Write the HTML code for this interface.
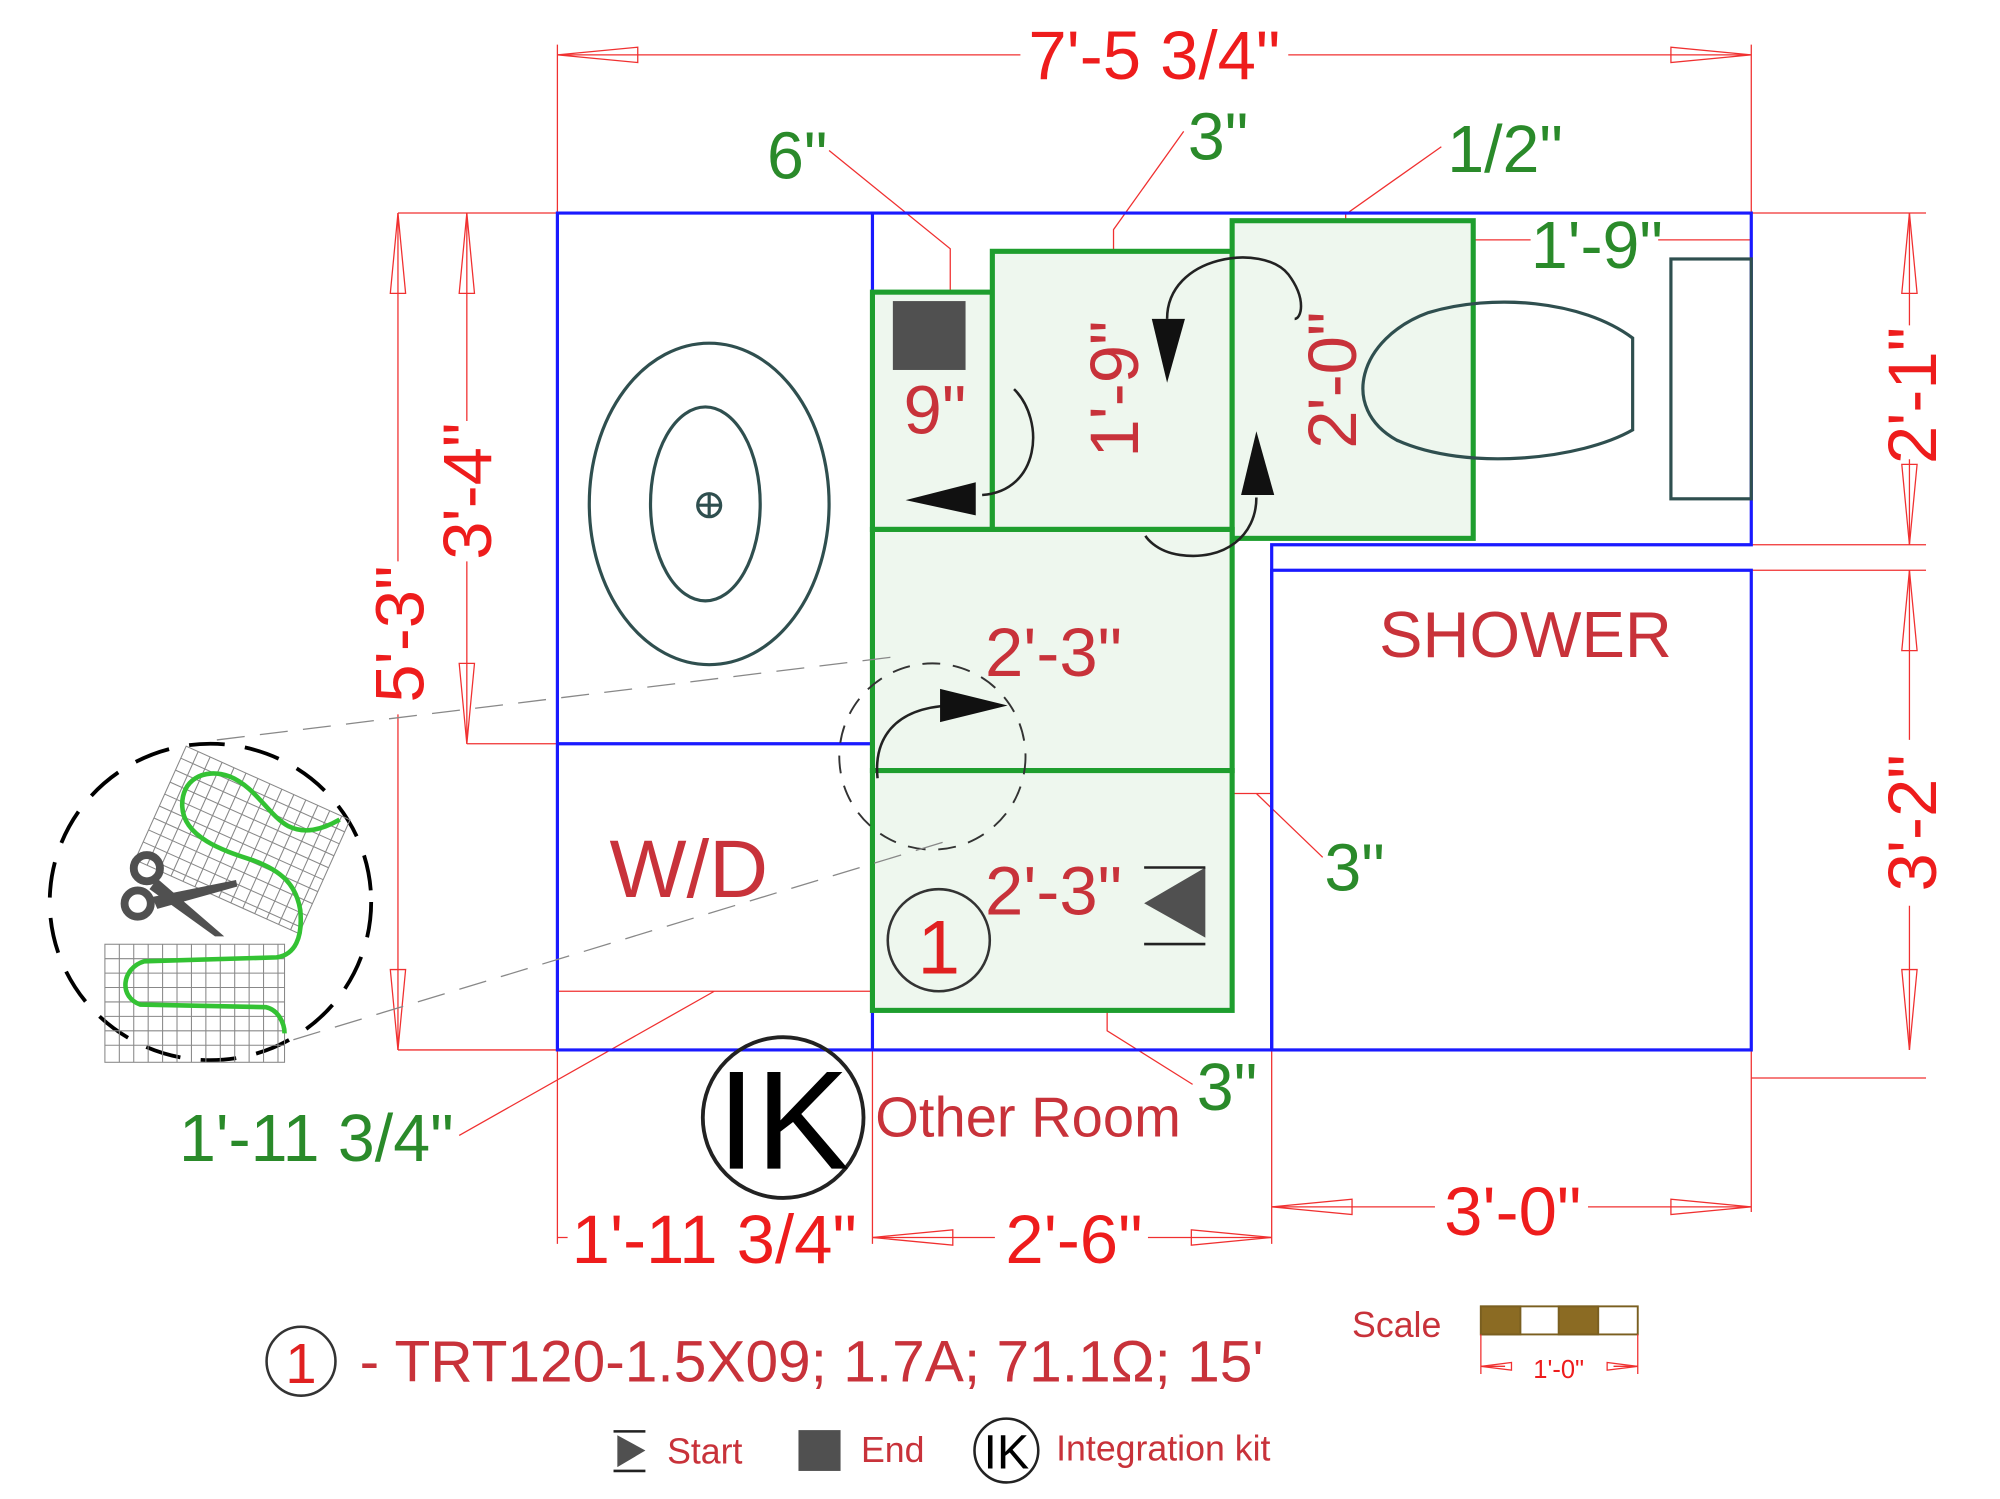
<!DOCTYPE html>
<html><head><meta charset="utf-8"><style>html,body{margin:0;padding:0;background:#fff}svg{display:block}</style></head><body>
<svg width="2000" height="1499" viewBox="0 0 1568 1175" preserveAspectRatio="none" xmlns="http://www.w3.org/2000/svg" font-family="Liberation Sans, sans-serif">
<rect width="1600" height="1200" fill="#fff"/>
<g stroke="#f03030" stroke-width="1" fill="none">
<path d="M437 35V975M1373 35V167M312 167H437M1373 167H1510M1373 427H1510M1373 447H1510M1373 823V845H1510M312 823H437M366 583H437M684 823V975M997 823V975M1373 845V950"/>
<path d="M437 43H800M1010 43H1373"/>
<polygon points="437,43 500,37 500,49"/><polygon points="1373,43 1310,37 1310,49"/>
<path d="M312 167V440M312 560V823"/>
<polygon points="312,167 306,230 318,230"/><polygon points="312,823 306,760 318,760"/>
<path d="M366 167V330M366 440V583"/>
<polygon points="366,167 360,230 372,230"/><polygon points="366,583 360,520 372,520"/>
<path d="M1497 167V255M1497 360V427"/>
<polygon points="1497,167 1491,230 1503,230"/><polygon points="1497,427 1491,364 1503,364"/>
<path d="M1497 447V580M1497 710V823"/>
<polygon points="1497,447 1491,510 1503,510"/><polygon points="1497,823 1491,760 1503,760"/>
<path d="M437 970H445M684 970H780M900 970H997M997 946H1125M1245 946H1373"/>
<polygon points="684,970 747,964 747,976"/><polygon points="997,970 934,964 934,976"/>
<polygon points="997,946 1060,940 1060,952"/><polygon points="1373,946 1310,940 1310,952"/>
<path d="M650 118L745 195V229"/>
<path d="M928 103L873 180V197"/>
<path d="M1130 115L1055 168V173"/>
<path d="M1155 188H1200M1300 188H1373"/>
<path d="M966 622H997M985 622L1037 672"/>
<path d="M868 792V808L935 850"/>
<path d="M437 777H684M560 777L360 890"/>
</g>
<g stroke="#1a1aff" stroke-width="2.5" fill="none">
<path d="M437 167H1373V427H997V823H437Z"/>
<path d="M684 167V823M437 583H684"/>
<rect x="997" y="447" width="376" height="376"/>
</g>
<g stroke="#1e9e2e" stroke-width="4" fill="#eef7ee">
<rect x="684" y="229" width="94" height="186"/>
<rect x="778" y="197" width="188" height="218"/>
<rect x="966" y="173" width="189" height="249"/>
<rect x="684" y="415" width="282" height="189"/>
<rect x="684" y="604" width="282" height="188"/>
</g>
<g stroke="#2f4f4f" stroke-width="2.5" fill="none">
<ellipse cx="556" cy="395" rx="94" ry="126"/>
<ellipse cx="553" cy="395" rx="43" ry="76"/>
<circle cx="556" cy="396" r="9"/><path d="M547 396H565M556 387V405"/>
<path d="M1280 265C1240 235 1170 230 1120 245C1065 265 1050 320 1095 345C1150 370 1240 360 1280 337Z"/>
<rect x="1310" y="203" width="63" height="188"/>
</g>
<rect x="700" y="236" width="57" height="54" fill="#505050"/>
<g stroke="#222" stroke-width="2" fill="none">
<path d="M795 305C820 330 815 385 770 388"/>
<path d="M915 250C915 200 990 190 1010 215C1025 235 1020 250 1015 250"/>
<path d="M985 390C985 420 960 440 925 435C905 432 898 420 898 420"/>
<path d="M745 553C700 555 685 580 688 610"/>
</g>
<polygon points="710,392 765,378 765,404" fill="#111"/>
<polygon points="915,300 903,250 929,250" fill="#111"/>
<polygon points="985,338 973,388 999,388" fill="#111"/>
<polygon points="790,553 737,540 737,566" fill="#111"/>
<polygon points="945,680 945,735 897,708" fill="#505050"/>
<path d="M897 680H945M897 740H945" stroke="#222" stroke-width="2"/>
<circle cx="731" cy="593" r="73" stroke="#333" stroke-width="1.5" fill="none" stroke-dasharray="14 10"/>
<g stroke="#888" stroke-width="1" fill="none" stroke-dasharray="22 12">
<path d="M170 580L700 515M230 815L740 660"/>
</g>
<ellipse cx="165" cy="707" rx="126" ry="124" stroke="#000" stroke-width="3" fill="none" stroke-dasharray="28 16"/>
<g transform="scale(1.028)">
<g stroke="#888" stroke-width="0.8" fill="none">
<g transform="translate(142 569) rotate(24.2)">
<rect x="0" y="0" width="137" height="95"/>
<path d="M10 0V95M20 0V95M30 0V95M40 0V95M50 0V95M60 0V95M70 0V95M80 0V95M90 0V95M100 0V95M110 0V95M120 0V95M130 0V95M0 10H137M0 20H137M0 30H137M0 40H137M0 50H137M0 60H137M0 70H137M0 80H137M0 90H137"/>
</g>
<rect x="80" y="720" width="137" height="90"/>
<path d="M91 720V810M102 720V810M113 720V810M124 720V810M135 720V810M146 720V810M157 720V810M168 720V810M179 720V810M190 720V810M201 720V810M212 720V810M80 731H217M80 742H217M80 753H217M80 764H217M80 775H217M80 786H217M80 797H217"/>
</g>
<path d="M259 625C245 633 232 636 220 630C205 622 195 600 175 592C155 585 138 595 139 615C140 640 175 650 193 656C215 664 226 675 229 694C231 715 225 728 211 730L110 733C93 738 90 760 107 766L203 768C212 770 217 780 217 788" stroke="#33c233" stroke-width="3.5" fill="none"/>
<g fill="#505050" stroke="#505050">
<circle cx="112" cy="662" r="10" fill="none" stroke-width="6"/>
<circle cx="105" cy="689" r="10" fill="none" stroke-width="6"/>
<polygon points="116,684 180,671 181,676 120,693" stroke="none"/>
<polygon points="120,670 171,714 164,714 114,678" stroke="none"/>
</g>
</g>
<circle cx="614" cy="876" r="63" fill="none" stroke="#222" stroke-width="3"/>
<text x="614" y="916" font-size="110" text-anchor="middle" fill="#000">IK</text>
<circle cx="736" cy="737" r="40" fill="none" stroke="#333" stroke-width="2"/>
<text x="736" y="763" font-size="60" text-anchor="middle" fill="#e02020">1</text>
<g fill="#ee1c1c" font-size="54">
<text x="905" y="62" text-anchor="middle">7'-5 3/4"</text>
<text x="560" y="990" text-anchor="middle">1'-11 3/4"</text>
<text x="842" y="990" text-anchor="middle">2'-6"</text>
<text x="1186" y="968" text-anchor="middle">3'-0"</text>
<text transform="translate(332 497) rotate(-90)" text-anchor="middle">5'-3"</text>
<text transform="translate(385 385) rotate(-90)" text-anchor="middle">3'-4"</text>
<text transform="translate(1518 310) rotate(-90)" text-anchor="middle">2'-1"</text>
<text transform="translate(1518 645) rotate(-90)" text-anchor="middle">3'-2"</text>
</g>
<g fill="#c8323a" font-size="54">
<text x="733" y="340" text-anchor="middle">9"</text>
<text transform="translate(892 305) rotate(-90)" text-anchor="middle">1'-9"</text>
<text transform="translate(1063 298) rotate(-90)" text-anchor="middle">2'-0"</text>
<text x="826" y="530" text-anchor="middle">2'-3"</text>
<text x="826" y="717" text-anchor="middle">2'-3"</text>
<text x="1196" y="515" text-anchor="middle" font-size="51">SHOWER</text>
<text x="540" y="703" text-anchor="middle" font-size="64">W/D</text>
<text x="806" y="891" text-anchor="middle" font-size="44">Other Room</text>
</g>
<g fill="#2a8a2a" font-size="52">
<text x="625" y="140" text-anchor="middle">6"</text>
<text x="955" y="125" text-anchor="middle">3"</text>
<text x="1180" y="135" text-anchor="middle">1/2"</text>
<text x="1252" y="210" text-anchor="middle">1'-9"</text>
<text x="1062" y="698" text-anchor="middle">3"</text>
<text x="962" y="870" text-anchor="middle">3"</text>
<text x="248" y="910" text-anchor="middle">1'-11 3/4"</text>
</g>
<circle cx="236" cy="1067" r="27" fill="none" stroke="#333" stroke-width="2"/>
<text x="236" y="1084" font-size="44" text-anchor="middle" fill="#e02020">1</text>
<text x="282" y="1083" font-size="46" fill="#c8323a">- TRT120-1.5X09; 1.7A; 71.1Ω; 15'</text>
<text x="1060" y="1048" font-size="28" fill="#c8323a">Scale</text>
<g stroke="#7a5f20" stroke-width="1.5">
<rect x="1161" y="1024" width="123" height="22" fill="#fff"/>
<rect x="1161" y="1024" width="31" height="22" fill="#8b6b23"/>
<rect x="1222" y="1024" width="31" height="22" fill="#8b6b23"/>
</g>
<g stroke="#f03030" fill="none"><path d="M1161 1046V1077M1284 1046V1077M1161 1071H1180M1265 1071H1284"/>
<polygon points="1161,1071 1185,1068 1185,1074"/><polygon points="1284,1071 1260,1068 1260,1074"/></g>
<text x="1222" y="1080" font-size="20" text-anchor="middle" fill="#ee1c1c">1'-0"</text>
<polygon points="484,1125 484,1150 506,1137" fill="#505050"/>
<path d="M481 1122H506M481 1153H506" stroke="#222" stroke-width="2"/>
<text x="523" y="1147" font-size="28" fill="#c8323a">Start</text>
<rect x="626" y="1121" width="33" height="32" fill="#505050"/>
<text x="675" y="1146" font-size="28" fill="#c8323a">End</text>
<circle cx="789" cy="1137" r="25" fill="none" stroke="#222" stroke-width="2"/>
<text x="789" y="1151" font-size="38" text-anchor="middle" fill="#000">IK</text>
<text x="828" y="1145" font-size="28" fill="#c8323a">Integration kit</text>
</svg>
</body></html>
